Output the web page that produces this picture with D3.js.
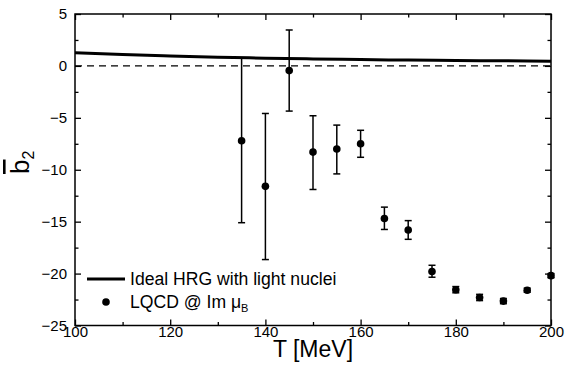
<!DOCTYPE html>
<html>
<head>
<meta charset="utf-8">
<script src="https://cdn.jsdelivr.net/npm/d3@7"></script>
<style>
  html, body { margin: 0; padding: 0; background: #fff; }
  svg { display: block; font-family: "Liberation Sans", Arial, sans-serif; }
</style>
</head>
<body>
<svg id="chart" width="566" height="377"></svg>
<script>
// Temperatures of the lattice points (MeV)
const latticeT = [135, 140, 145, 150, 155, 160, 165, 170, 175, 180, 185, 190, 195, 200];
// Central values and error-bar ends of b2 from lattice QCD at imaginary mu_B
const latticeB2 = [-7.2, -11.6, -0.45, -8.3, -8.0, -7.5, -14.7, -15.8, -19.8, -21.55, -22.3, -22.65, -21.6, -20.2];
const latticeLow = [-15.1, -18.65, -4.35, -11.9, -10.4, -8.8, -15.75, -16.7, -20.35, -21.85, -22.6, -22.9, -21.8, -20.4];
const latticeHigh = [0.74, -4.58, 3.46, -4.8, -5.7, -6.2, -13.6, -14.9, -19.2, -21.25, -22.0, -22.4, -21.4, -20.0];

// Ideal HRG with light nuclei curve
const hrgT = [100, 110, 120, 130, 140, 150, 160, 170, 180, 190, 200];
const hrgB2 = [1.27, 1.1, 0.96, 0.84, 0.75, 0.67, 0.61, 0.56, 0.52, 0.49, 0.46];

// Tick labels
const xTicks = [100, 120, 140, 160, 180, 200];
const yTicks = [5, 0, -5, -10, -15, -20, -25];

const svg = d3.select("#chart");
const margin = { left: 75, right: 15, top: 14, bottom: 51.5 };
const W = 566, H = 377;
const x = d3.scaleLinear().domain([100, 200]).range([margin.left, W - margin.right]);
const y = d3.scaleLinear().domain([-25, 5]).range([H - margin.bottom, margin.top]);

const x0 = x.range()[0], x1 = x.range()[1], y0 = y.range()[0], y1 = y.range()[1];

// Zero reference line
svg.append("line")
  .attr("x1", x0).attr("x2", x1)
  .attr("y1", y(0)).attr("y2", y(0))
  .attr("stroke", "#000").attr("stroke-width", 1.4)
  .attr("stroke-dasharray", "7,5");

// HRG curve
svg.append("path")
  .datum(hrgT.map((t, i) => [t, hrgB2[i]]))
  .attr("fill", "none").attr("stroke", "#000").attr("stroke-width", 3)
  .attr("d", d3.line().x(d => x(d[0])).y(d => y(d[1])).curve(d3.curveMonotoneX));

// Error bars
const pts = latticeT.map((t, i) => ({ t, v: latticeB2[i], lo: latticeLow[i], hi: latticeHigh[i] }));
const eb = svg.append("g").attr("stroke", "#000").attr("stroke-width", 1.5);
pts.forEach(d => {
  eb.append("line").attr("x1", x(d.t)).attr("x2", x(d.t)).attr("y1", y(d.lo)).attr("y2", y(d.hi));
  [d.lo, d.hi].forEach(e => {
    eb.append("line").attr("x1", x(d.t) - 3.5).attr("x2", x(d.t) + 3.5).attr("y1", y(e)).attr("y2", y(e));
  });
});
// Points
svg.append("g").selectAll("circle").data(pts).join("circle")
  .attr("cx", d => x(d.t)).attr("cy", d => y(d.v)).attr("r", 3.8).attr("fill", "#000");

// Axes with inward ticks on all four sides
function ticksAll(axisFn, scale, pos, major, minor, showLabels, pad) {
  const gMinor = svg.append("g").attr("transform", pos)
    .call(axisFn(scale).tickValues(minor).tickSize(-3.5).tickFormat(""));
  gMinor.select(".domain").remove();
  const g = svg.append("g").attr("transform", pos)
    .call(axisFn(scale).tickValues(major).tickSize(-6).tickPadding(pad)
      .tickFormat(showLabels ? d3.format("d") : ""));
  g.select(".domain").remove();
  g.selectAll("line").attr("stroke-width", 1.3);
  gMinor.selectAll("line").attr("stroke-width", 1.3);
  g.selectAll("text").attr("font-size", 15).attr("fill", "#000")
    .attr("font-family", "'Liberation Sans', Arial, sans-serif");
  return g;
}
const xMinor = d3.range(110, 200, 20);
const yMinor = d3.range(-22.5, 5, 5);
ticksAll(d3.axisBottom, x, `translate(0,${y0})`, xTicks, xMinor, true, 1);
ticksAll(d3.axisTop, x, `translate(0,${y1})`, xTicks, xMinor, false, 0);
ticksAll(d3.axisLeft, y, `translate(${x0},0)`, yTicks, yMinor, true, 8);
ticksAll(d3.axisRight, y, `translate(${x1},0)`, yTicks, yMinor, false, 0);

// Frame
svg.append("rect")
  .attr("x", x0).attr("y", y1).attr("width", x1 - x0).attr("height", y0 - y1)
  .attr("fill", "none").attr("stroke", "#000").attr("stroke-width", 1.5);

// Axis titles
svg.append("text")
  .attr("x", (x0 + x1) / 2).attr("y", 357)
  .attr("text-anchor", "middle").attr("font-size", 23).text("T [MeV]");

const yt = svg.append("text")
  .attr("transform", "translate(29,174) rotate(-90)")
  .attr("font-size", 26);
yt.append("tspan").style("text-decoration", "overline").text("b");
yt.append("tspan").attr("font-size", 16).attr("dy", 5).text("2");

// Legend
const lg = svg.append("g");
lg.append("line").attr("x1", 87).attr("x2", 125).attr("y1", 279).attr("y2", 279)
  .attr("stroke", "#000").attr("stroke-width", 3);
lg.append("text").attr("x", 130).attr("y", 285).attr("font-size", 17.6)
  .text("Ideal HRG with light nuclei");
lg.append("circle").attr("cx", 106).attr("cy", 302).attr("r", 3.8).attr("fill", "#000");
const lt = lg.append("text").attr("x", 130).attr("y", 308).attr("font-size", 17.6);
lt.append("tspan").text("LQCD @ Im ");
lt.append("tspan").text("μ");
lt.append("tspan").attr("font-size", 11).attr("dy", 4).text("B");
</script>
</body>
</html>
